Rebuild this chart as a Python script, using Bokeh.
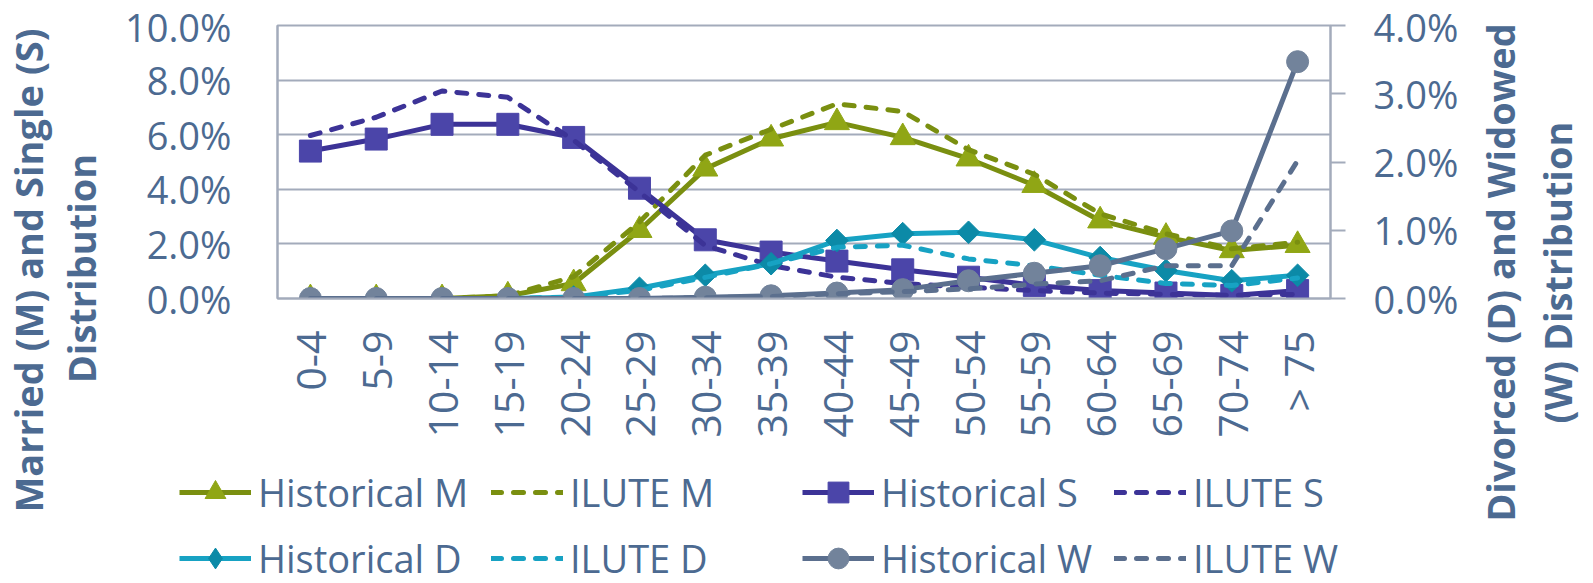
import math
from bokeh.plotting import figure
from bokeh.layouts import row, column
from bokeh.models import (Range1d, LinearAxis, FactorRange, Legend, LegendItem,
                          PrintfTickFormatter, FixedTicker, Label, ColumnDataSource)
from bokeh.embed import file_html
from bokeh.resources import INLINE

# ---------------- data (percent) ----------------
age_groups = ["0-4", "5-9", "10-14", "15-19", "20-24", "25-29", "30-34", "35-39",
              "40-44", "45-49", "50-54", "55-59", "60-64", "65-69", "70-74", "> 75"]

hist_m = [0.0, 0.0, 0.0, 0.1, 0.55, 2.5, 4.75, 5.85, 6.45, 5.9, 5.12, 4.15, 2.85, 2.25, 1.76, 1.95]
ilute_m = [0.0, 0.0, 0.0, 0.1, 0.8, 2.8, 5.25, 6.2, 7.13, 6.85, 5.45, 4.55, 3.1, 2.37, 1.82, 2.06]
hist_s = [5.4, 5.84, 6.38, 6.38, 5.9, 4.04, 2.15, 1.7, 1.37, 1.05, 0.78, 0.48, 0.29, 0.2, 0.11, 0.29]
ilute_s = [5.97, 6.64, 7.6, 7.37, 5.8, 3.9, 1.94, 1.21, 0.78, 0.55, 0.41, 0.29, 0.2, 0.15, 0.12, 0.15]
hist_d = [0.0, 0.0, 0.0, 0.0, 0.02, 0.15, 0.34, 0.51, 0.85, 0.95, 0.97, 0.86, 0.6, 0.41, 0.26, 0.34]
ilute_d = [0.0, 0.0, 0.0, 0.0, 0.02, 0.12, 0.31, 0.51, 0.75, 0.78, 0.58, 0.48, 0.34, 0.22, 0.19, 0.3]
hist_w = [0.0, 0.0, 0.0, 0.0, 0.0, 0.0, 0.02, 0.04, 0.08, 0.13, 0.26, 0.37, 0.48, 0.73, 0.99, 3.47]
ilute_w = [0.0, 0.0, 0.0, 0.0, 0.0, 0.0, 0.01, 0.03, 0.07, 0.1, 0.14, 0.21, 0.26, 0.48, 0.48, 2.02]

left_ticks = [0, 2, 4, 6, 8, 10]
right_ticks = [0, 1, 2, 3, 4]

left_title = ["Married (M) and Single (S)", "Distribution"]
right_title = ["Divorced (D) and Widowed", "(W) Distribution"]

# ---------------- style ----------------
TXT = "#4C6A91"
GRID = "#A3ABBB"
FONT = "Open Sans"

C_M_LINE, C_M_MARK = "#7A8F10", "#90A615"
C_S_LINE, C_S_MARK = "#3C3397", "#4B45A9"
C_D_LINE, C_D_MARK = "#17A2C3", "#0C8AA7"
C_W_LINE, C_W_MARK = "#5B6F8E", "#72839B"

LW = 5
DASH = "10 12"

LEFT_W, MAIN_W, RIGHT_W = 112, 1358, 123
MAIN_H, LEG_H = 455, 125
TOTAL_H = MAIN_H + LEG_H

# ---------------- main chart ----------------
p = figure(width=MAIN_W, height=MAIN_H, x_range=FactorRange(*age_groups, range_padding=0),
           y_range=Range1d(0, 10), output_backend="svg", toolbar_location=None,
           min_border_left=165, min_border_right=140, min_border_top=25,
           min_border_bottom=MAIN_H - 298)
p.extra_y_ranges = {"right": Range1d(0, 4)}

p.outline_line_color = GRID
p.outline_line_width = 2
p.xgrid.grid_line_color = None
p.ygrid.grid_line_color = GRID
p.ygrid.grid_line_width = 2

ya = p.yaxis[0]
ya.ticker = FixedTicker(ticks=left_ticks)
ya.formatter = PrintfTickFormatter(format="%.1f%%")
ya.axis_line_color = GRID
ya.axis_line_width = 2
ya.major_tick_out = 0
ya.major_tick_in = 0
ya.minor_tick_out = 0
ya.minor_tick_in = 0
ya.major_label_standoff = 46
ya.major_label_text_font = FONT
ya.major_label_text_font_size = "38px"
ya.major_label_text_color = TXT

ra = LinearAxis(y_range_name="right", ticker=FixedTicker(ticks=right_ticks),
                formatter=PrintfTickFormatter(format="%.1f%%"))
ra.axis_line_color = GRID
ra.axis_line_width = 2
ra.major_tick_line_color = GRID
ra.major_tick_line_width = 2
ra.major_tick_out = 15
ra.major_tick_in = 0
ra.minor_tick_out = 0
ra.minor_tick_in = 0
ra.major_label_standoff = 28
ra.major_label_text_font = FONT
ra.major_label_text_font_size = "38px"
ra.major_label_text_color = TXT
p.add_layout(ra, "right")

xa = p.xaxis[0]
xa.axis_line_color = GRID
xa.axis_line_width = 2
xa.major_tick_line_color = None
xa.major_tick_out = 10
xa.major_tick_in = 0
xa.major_label_orientation = math.pi / 2
xa.major_label_standoff = 22
xa.major_label_text_font = FONT
xa.major_label_text_font_size = "41px"
xa.major_label_text_color = TXT

src = ColumnDataSource(dict(x=age_groups, hm=hist_m, im=ilute_m, hs=hist_s, is_=ilute_s,
                            hd=hist_d, id_=ilute_d, hw=hist_w, iw=ilute_w))

STYLES = {
    "M": dict(line=C_M_LINE, mark=C_M_MARK, marker="triangle", size=25, angle=0.0),
    "S": dict(line=C_S_LINE, mark=C_S_MARK, marker="square", size=22, angle=0.0),
    "D": dict(line=C_D_LINE, mark=C_D_MARK, marker="square", size=16, angle=math.pi / 4),
    "W": dict(line=C_W_LINE, mark=C_W_MARK, marker="circle", size=22, angle=0.0),
}


def draw_series(fig, key, hist_col, ilute_col, source, rng=None, marker=None):
    st = STYLES[key]
    kw = {} if rng is None else {"y_range_name": rng}
    hl = fig.line("x", hist_col, source=source, line_color=st["line"], line_width=LW,
                  line_join="round", **kw)
    hs = fig.scatter("x", hist_col, source=source, marker=marker or st["marker"], size=st["size"],
                     angle=st["angle"], fill_color=st["mark"], line_color=st["mark"], **kw)
    il = fig.line("x", ilute_col, source=source, line_color=st["line"], line_width=LW,
                  line_dash=DASH, line_cap="round", line_join="round", **kw)
    return [hl, hs], [il]


draw_series(p, "M", "hm", "im", src)
draw_series(p, "S", "hs", "is_", src)
draw_series(p, "D", "hd", "id_", src, rng="right")
draw_series(p, "W", "hw", "iw", src, rng="right")

# ---------------- legend strip (legend-only renderers, no visible data) ----------------
lg_fig = figure(width=MAIN_W, height=LEG_H, x_range=Range1d(0, MAIN_W), y_range=Range1d(0, LEG_H),
                x_axis_type=None, y_axis_type=None, output_backend="svg", toolbar_location=None,
                min_border=0, outline_line_color=None)
nan = float("nan")
lsrc = ColumnDataSource(dict(x=[nan], y1=[nan], y2=[nan]))
m_h, m_i = draw_series(lg_fig, "M", "y1", "y2", lsrc)
s_h, s_i = draw_series(lg_fig, "S", "y1", "y2", lsrc)
d_h, d_i = draw_series(lg_fig, "D", "y1", "y2", lsrc, marker="diamond")
w_h, w_i = draw_series(lg_fig, "W", "y1", "y2", lsrc)

cols = [
    (67, [("Historical M", m_h), ("Historical D", d_h)]),
    (379, [("ILUTE M", m_i), ("ILUTE D", d_i)]),
    (690, [("Historical S", s_h), ("Historical W", w_h)]),
    (1002, [("ILUTE S", s_i), ("ILUTE W", w_i)]),
]
for vx, entries in cols:
    lg = Legend(items=[LegendItem(label=lab, renderers=r) for lab, r in entries],
                location=(vx, -4), orientation="vertical",
                glyph_width=72, glyph_height=52, label_height=52, label_standoff=7,
                spacing=14, padding=0, margin=0,
                border_line_alpha=0, background_fill_alpha=0,
                label_text_font=FONT, label_text_font_size="38px", label_text_color=TXT)
    lg_fig.add_layout(lg, "center")


# ---------------- axis title strips ----------------
def title_fig(w, lines, xs, ys):
    f = figure(width=w, height=TOTAL_H, x_range=Range1d(0, w), y_range=Range1d(0, TOTAL_H),
               x_axis_type=None, y_axis_type=None, output_backend="svg", toolbar_location=None,
               min_border=0, outline_line_color=None)
    for t, x, y in zip(lines, xs, ys):
        f.add_layout(Label(x=x, y=y, text=t, angle=math.pi / 2, text_align="center",
                           text_baseline="middle", text_font=FONT, text_font_size="38px",
                           text_font_style="bold", text_color=TXT))
    return f


lt = title_fig(LEFT_W, left_title, [27, 80], [TOTAL_H - 270, TOTAL_H - 268])
rt = title_fig(RIGHT_W, right_title, [29, 86], [TOTAL_H - 272, TOTAL_H - 272])

layout = row(lt, column(p, row(lg_fig, spacing=0), spacing=0), rt, spacing=0)

open("out.html", "w").write(file_html(layout, INLINE))
